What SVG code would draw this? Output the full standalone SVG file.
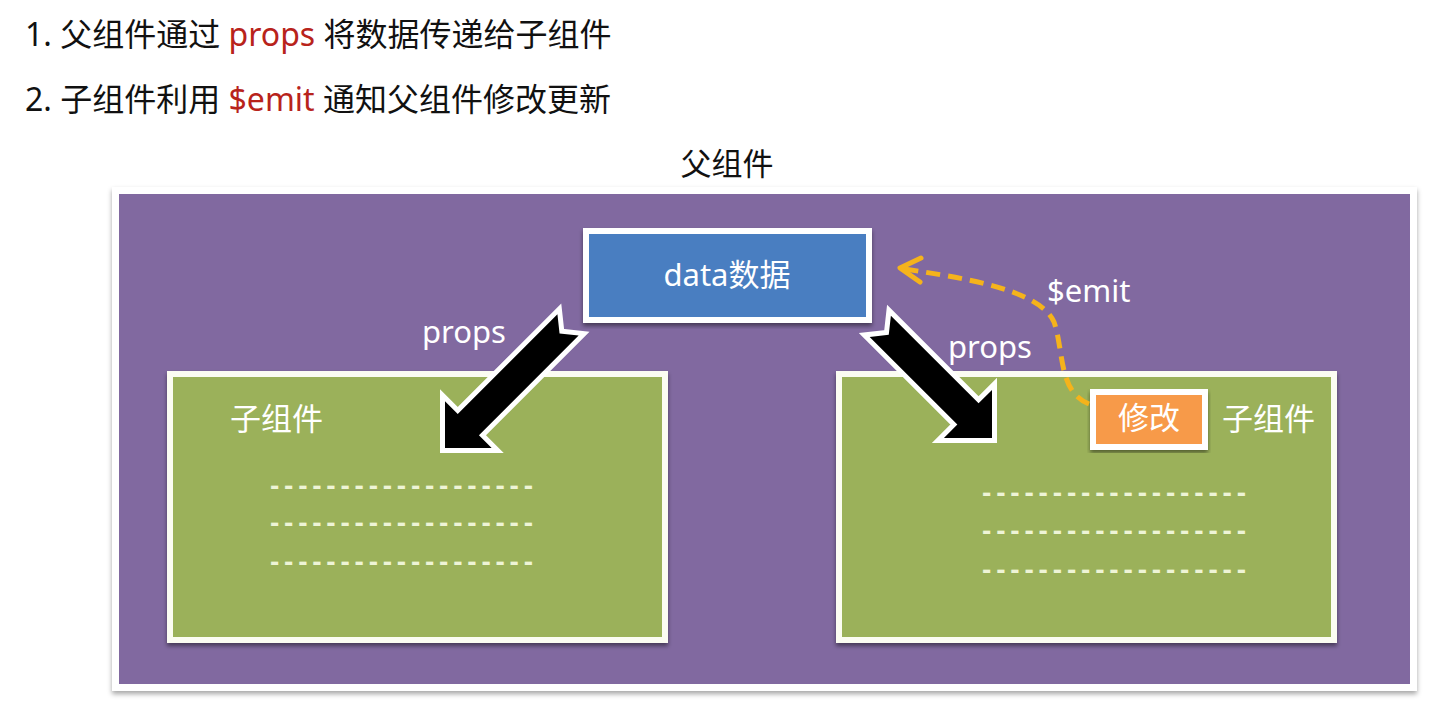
<svg xmlns="http://www.w3.org/2000/svg" width="1434" height="704" viewBox="0 0 1434 704">
<defs>
<style>
.t{font-family:"Noto Sans","Noto Sans CJK SC",sans-serif;font-size:31px}
.big{font-size:32px}
.w{fill:#ffffff}
.k{fill:#111111}
.r{fill:#b8231b}
.dash{font-family:"Liberation Sans",sans-serif;font-size:28px;font-weight:bold;fill:#eef4d6}
.arrow{fill:#000000;stroke:#ffffff;stroke-width:10;stroke-linejoin:miter;paint-order:stroke}
</style>
<filter id="sh" x="-5%" y="-5%" width="110%" height="115%">
<feDropShadow dx="0" dy="3" stdDeviation="2" flood-color="#000000" flood-opacity="0.45"/>
</filter>
<filter id="sh2" x="-5%" y="-5%" width="110%" height="115%">
<feDropShadow dx="0" dy="3" stdDeviation="2.5" flood-color="#000000" flood-opacity="0.35"/>
</filter>
</defs>
<rect width="1434" height="704" fill="#ffffff"/>
<g id="intro">
<text class="t big k" x="25" y="46">1. 父组件通过 <tspan class="r">props</tspan> 将数据传递给子组件</text>
<text class="t big k" x="25" y="111">2. 子组件利用 <tspan class="r">$emit</tspan> 通知父组件修改更新</text>
</g>
<g id="parent">
<text class="t k" x="727" y="175" text-anchor="middle">父组件</text>
<rect x="112" y="187" width="1305" height="504" fill="#ffffff" filter="url(#sh2)"/>
<rect x="119" y="194" width="1291" height="490" fill="#8169a0"/>
</g>
<g id="child-left">
<rect x="170" y="374" width="495" height="266" fill="#9bb15a" stroke="#fbfcf2" stroke-width="6" filter="url(#sh)"/>
<text class="t w" x="230" y="430">子组件</text>
<text class="dash" x="270" y="495" textLength="263" lengthAdjust="spacing">-------------------</text>
<text class="dash" x="270" y="532" textLength="263" lengthAdjust="spacing">-------------------</text>
<text class="dash" x="270" y="571" textLength="263" lengthAdjust="spacing">-------------------</text>
</g>
<g id="child-right">
<rect x="839" y="374" width="495" height="266" fill="#9bb15a" stroke="#fbfcf2" stroke-width="6" filter="url(#sh)"/>
<text class="t w" x="1222" y="430">子组件</text>
<text class="dash" x="982" y="502" textLength="264" lengthAdjust="spacing">-------------------</text>
<text class="dash" x="982" y="540" textLength="264" lengthAdjust="spacing">-------------------</text>
<text class="dash" x="982" y="579" textLength="264" lengthAdjust="spacing">-------------------</text>
</g>
<g id="data">
<rect x="586" y="231" width="283" height="89" fill="#4a7ec1" stroke="#ffffff" stroke-width="6" filter="url(#sh)"/>
<text class="t w" x="727" y="286" text-anchor="middle">data数据</text>
</g>
<g id="modify">
<rect x="1093" y="392" width="112" height="55" fill="#f79a48" stroke="#ffffff" stroke-width="6" filter="url(#sh)"/>
<text class="t w" x="1149" y="429" text-anchor="middle">修改</text>
</g>
<g id="connectors">
<path class="arrow" transform="translate(445,448) rotate(135)" d="M0,0 L-33,-33 L-33,-15 L-174,-15 L-162,0 L-174,15 L-33,15 L-33,33 Z"/>
<text class="t w" x="422" y="343">props</text>
<path class="arrow" transform="translate(992,438) rotate(45)" d="M0,0 L-34,-34 L-34,-15 L-158,-15 L-146,0 L-158,15 L-34,15 L-34,34 Z"/>
<text class="t w" x="948" y="358">props</text>
<path d="M1089,404 C1058,392 1064,350 1054,322 C1040,290 965,278 904,269" fill="none" stroke="#f5b31b" stroke-width="5" stroke-dasharray="14 8"/>
<path d="M921,258 L900,268 L920,282" fill="none" stroke="#f5b31b" stroke-width="5" stroke-linecap="round" stroke-linejoin="round"/>
<text class="t w" x="1047" y="302">$emit</text>
</g>
</svg>
